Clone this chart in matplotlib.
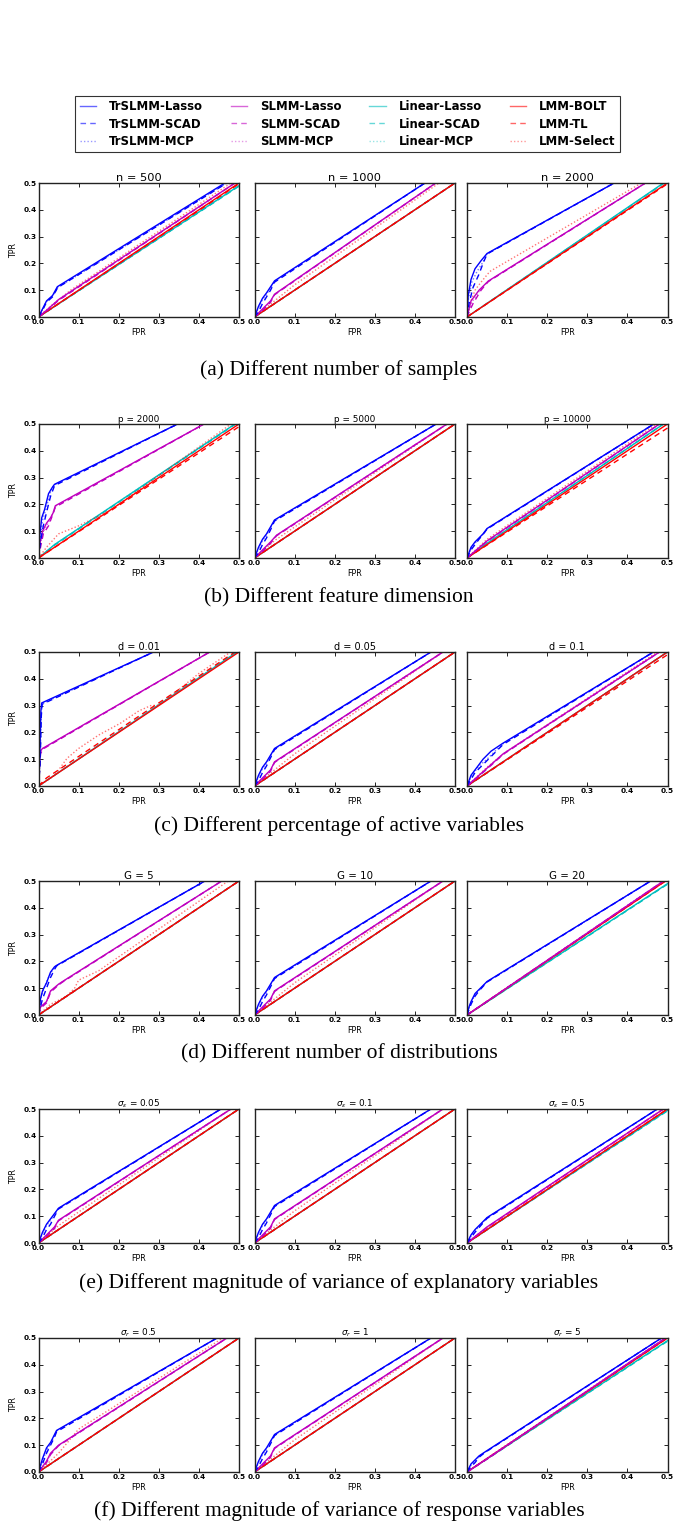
import matplotlib
matplotlib.use("Agg")
import matplotlib.pyplot as plt
from matplotlib.lines import Line2D

# ---------------- data ----------------
methods = ["TrSLMM-Lasso", "TrSLMM-SCAD", "TrSLMM-MCP",
           "SLMM-Lasso", "SLMM-SCAD", "SLMM-MCP",
           "Linear-Lasso", "Linear-SCAD", "Linear-MCP",
           "LMM-BOLT", "LMM-TL", "LMM-Select"]

row_titles = [["n = 500", "n = 1000", "n = 2000"],
              ["p = 2000", "p = 5000", "p = 10000"],
              ["d = 0.01", "d = 0.05", "d = 0.1"],
              ["G = 5", "G = 10", "G = 20"],
              [r"$\sigma_\epsilon$ = 0.05", r"$\sigma_\epsilon$ = 0.1", r"$\sigma_\epsilon$ = 0.5"],
              [r"$\sigma_r$ = 0.5", r"$\sigma_r$ = 1", r"$\sigma_r$ = 5"]]

captions = ["(a) Different number of samples",
            "(b) Different feature dimension",
            "(c) Different percentage of active variables",
            "(d) Different number of distributions",
            "(e) Different magnitude of variance of explanatory variables",
            "(f) Different magnitude of variance of response variables"]

xticks = [0.0, 0.1, 0.2, 0.3, 0.4, 0.5]
yticks = [0.0, 0.1, 0.2, 0.3, 0.4, 0.5]

DIAG = ([0, 0.5], [0, 0.5])

# each curve: (FPR knots, TPR knots)
roc_n500 = {
    "TrSLMM-Lasso": ([0, 0.01, 0.02, 0.035, 0.047, 0.465], [0, 0.03, 0.06, 0.08, 0.113, 0.5]),
    "TrSLMM-SCAD": ([0, 0.01, 0.02, 0.035, 0.048, 0.47], [0, 0.025, 0.055, 0.075, 0.11, 0.5]),
    "TrSLMM-MCP": ([0, 0.01, 0.02, 0.035, 0.048, 0.47], [0, 0.028, 0.058, 0.078, 0.11, 0.5]),
    "SLMM-Lasso": ([0, 0.02, 0.05, 0.49], [0, 0.025, 0.065, 0.5]),
    "SLMM-SCAD": ([0, 0.02, 0.05, 0.49], [0, 0.022, 0.062, 0.5]),
    "SLMM-MCP": ([0, 0.02, 0.05, 0.49], [0, 0.024, 0.064, 0.5]),
    "Linear-Lasso": ([0, 0.5], [0, 0.49]),
    "Linear-SCAD": ([0, 0.5], [0, 0.488]),
    "Linear-MCP": ([0, 0.5], [0, 0.49]),
    "LMM-BOLT": DIAG,
    "LMM-TL": ([0, 0.5], [0, 0.497]),
    "LMM-Select": ([0, 0.03, 0.08, 0.48], [0, 0.04, 0.1, 0.5]),
}
roc_n1000 = {
    "TrSLMM-Lasso": ([0, 0.01, 0.02, 0.03, 0.05, 0.425], [0, 0.04, 0.07, 0.09, 0.135, 0.5]),
    "TrSLMM-SCAD": ([0, 0.01, 0.02, 0.03, 0.04, 0.05, 0.425], [0, 0.02, 0.05, 0.075, 0.1, 0.13, 0.5]),
    "TrSLMM-MCP": ([0, 0.01, 0.02, 0.03, 0.05, 0.425], [0, 0.035, 0.065, 0.085, 0.133, 0.5]),
    "SLMM-Lasso": ([0, 0.02, 0.04, 0.05, 0.452], [0, 0.03, 0.06, 0.085, 0.5]),
    "SLMM-SCAD": ([0, 0.02, 0.04, 0.05, 0.452], [0, 0.025, 0.055, 0.083, 0.5]),
    "SLMM-MCP": ([0, 0.02, 0.04, 0.05, 0.452], [0, 0.028, 0.058, 0.084, 0.5]),
    "Linear-Lasso": DIAG,
    "Linear-SCAD": DIAG,
    "Linear-MCP": DIAG,
    "LMM-BOLT": DIAG,
    "LMM-TL": DIAG,
    "LMM-Select": ([0, 0.05, 0.1, 0.46], [0, 0.06, 0.12, 0.5]),
}
roc_n2000 = {
    "TrSLMM-Lasso": ([0, 0.003, 0.01, 0.02, 0.035, 0.05, 0.367], [0, 0.08, 0.14, 0.18, 0.21, 0.237, 0.5]),
    "TrSLMM-SCAD": ([0, 0.005, 0.015, 0.03, 0.04, 0.05, 0.367], [0, 0.05, 0.11, 0.16, 0.2, 0.235, 0.5]),
    "TrSLMM-MCP": ([0, 0.004, 0.012, 0.025, 0.04, 0.05, 0.367], [0, 0.07, 0.13, 0.17, 0.205, 0.236, 0.5]),
    "SLMM-Lasso": ([0, 0.005, 0.01, 0.02, 0.03, 0.053, 0.445], [0, 0.03, 0.06, 0.08, 0.1, 0.134, 0.5]),
    "SLMM-SCAD": ([0, 0.007, 0.015, 0.025, 0.035, 0.053, 0.445], [0, 0.025, 0.05, 0.075, 0.1, 0.132, 0.5]),
    "SLMM-MCP": ([0, 0.005, 0.012, 0.022, 0.032, 0.053, 0.445], [0, 0.028, 0.055, 0.078, 0.1, 0.133, 0.5]),
    "Linear-Lasso": ([0, 0.49], [0, 0.5]),
    "Linear-SCAD": ([0, 0.492], [0, 0.5]),
    "Linear-MCP": ([0, 0.492], [0, 0.5]),
    "LMM-BOLT": DIAG,
    "LMM-TL": ([0, 0.5], [0, 0.497]),
    "LMM-Select": ([0, 0.01, 0.02, 0.035, 0.057, 0.435], [0, 0.06, 0.1, 0.13, 0.17, 0.5]),
}
roc_p2000 = {
    "TrSLMM-Lasso": ([0, 0.003, 0.008, 0.015, 0.025, 0.035, 0.04, 0.347], [0, 0.08, 0.15, 0.18, 0.24, 0.265, 0.275, 0.5]),
    "TrSLMM-SCAD": ([0, 0.005, 0.012, 0.02, 0.03, 0.04, 0.347], [0, 0.06, 0.12, 0.17, 0.23, 0.27, 0.5]),
    "TrSLMM-MCP": ([0, 0.004, 0.01, 0.02, 0.03, 0.04, 0.347], [0, 0.07, 0.14, 0.19, 0.25, 0.273, 0.5]),
    "SLMM-Lasso": ([0, 0.003, 0.01, 0.02, 0.03, 0.037, 0.042, 0.413], [0, 0.05, 0.1, 0.13, 0.15, 0.17, 0.195, 0.5]),
    "SLMM-SCAD": ([0, 0.005, 0.012, 0.025, 0.035, 0.042, 0.413], [0, 0.04, 0.09, 0.12, 0.16, 0.19, 0.5]),
    "SLMM-MCP": ([0, 0.004, 0.011, 0.022, 0.033, 0.042, 0.413], [0, 0.045, 0.095, 0.125, 0.155, 0.193, 0.5]),
    "Linear-Lasso": ([0, 0.04, 0.49], [0, 0.05, 0.5]),
    "Linear-SCAD": ([0, 0.04, 0.492], [0, 0.048, 0.5]),
    "Linear-MCP": ([0, 0.04, 0.49], [0, 0.05, 0.5]),
    "LMM-BOLT": DIAG,
    "LMM-TL": ([0, 0.5], [0, 0.49]),
    "LMM-Select": ([0, 0.02, 0.05, 0.1, 0.178, 0.48], [0, 0.04, 0.09, 0.12, 0.177, 0.5]),
}
roc_p5000 = {
    "TrSLMM-Lasso": ([0, 0.01, 0.02, 0.03, 0.05, 0.453], [0, 0.04, 0.07, 0.09, 0.142, 0.5]),
    "TrSLMM-SCAD": ([0, 0.01, 0.02, 0.03, 0.04, 0.05, 0.453], [0, 0.02, 0.05, 0.075, 0.105, 0.138, 0.5]),
    "TrSLMM-MCP": ([0, 0.01, 0.02, 0.03, 0.05, 0.453], [0, 0.035, 0.065, 0.085, 0.14, 0.5]),
    "SLMM-Lasso": ([0, 0.02, 0.04, 0.055, 0.48], [0, 0.03, 0.06, 0.085, 0.5]),
    "SLMM-SCAD": ([0, 0.02, 0.04, 0.055, 0.48], [0, 0.025, 0.055, 0.083, 0.5]),
    "SLMM-MCP": ([0, 0.02, 0.04, 0.055, 0.48], [0, 0.028, 0.058, 0.084, 0.5]),
    "Linear-Lasso": DIAG,
    "Linear-SCAD": DIAG,
    "Linear-MCP": DIAG,
    "LMM-BOLT": DIAG,
    "LMM-TL": DIAG,
    "LMM-Select": ([0, 0.05, 0.48], [0, 0.065, 0.5]),
}
roc_p10000 = {
    "TrSLMM-Lasso": ([0, 0.005, 0.01, 0.02, 0.03, 0.04, 0.05, 0.466], [0, 0.02, 0.04, 0.06, 0.075, 0.09, 0.11, 0.5]),
    "TrSLMM-SCAD": ([0, 0.005, 0.01, 0.02, 0.03, 0.04, 0.05, 0.466], [0, 0.015, 0.03, 0.05, 0.07, 0.088, 0.108, 0.5]),
    "TrSLMM-MCP": ([0, 0.005, 0.01, 0.02, 0.03, 0.04, 0.05, 0.466], [0, 0.018, 0.035, 0.055, 0.072, 0.089, 0.109, 0.5]),
    "SLMM-Lasso": ([0, 0.05, 0.48], [0, 0.064, 0.5]),
    "SLMM-SCAD": ([0, 0.05, 0.48], [0, 0.062, 0.5]),
    "SLMM-MCP": ([0, 0.05, 0.48], [0, 0.063, 0.5]),
    "Linear-Lasso": ([0, 0.05, 0.49], [0, 0.055, 0.5]),
    "Linear-SCAD": ([0, 0.05, 0.49], [0, 0.054, 0.5]),
    "Linear-MCP": ([0, 0.05, 0.49], [0, 0.055, 0.5]),
    "LMM-BOLT": DIAG,
    "LMM-TL": ([0, 0.5], [0, 0.485]),
    "LMM-Select": ([0, 0.05, 0.472], [0, 0.07, 0.5]),
}
roc_d001 = {
    "TrSLMM-Lasso": ([0, 0.003, 0.006, 0.008, 0.287], [0, 0.1, 0.28, 0.31, 0.5]),
    "TrSLMM-SCAD": ([0, 0.004, 0.007, 0.009, 0.287], [0, 0.08, 0.26, 0.305, 0.5]),
    "TrSLMM-MCP": ([0, 0.004, 0.007, 0.009, 0.287], [0, 0.09, 0.27, 0.307, 0.5]),
    "SLMM-Lasso": ([0, 0.002, 0.004, 0.01, 0.427], [0, 0.08, 0.13, 0.14, 0.5]),
    "SLMM-SCAD": ([0, 0.003, 0.005, 0.011, 0.427], [0, 0.07, 0.12, 0.138, 0.5]),
    "SLMM-MCP": ([0, 0.002, 0.005, 0.01, 0.427], [0, 0.075, 0.125, 0.139, 0.5]),
    "Linear-Lasso": ([0, 0.495], [0, 0.5]),
    "Linear-SCAD": ([0, 0.495], [0, 0.5]),
    "Linear-MCP": ([0, 0.495], [0, 0.5]),
    "LMM-BOLT": DIAG,
    "LMM-TL": ([0, 0.02, 0.49], [0, 0.03, 0.5]),
    "LMM-Select": ([0, 0.02, 0.041, 0.071, 0.1, 0.15, 0.204, 0.25, 0.28, 0.3, 0.35, 0.4, 0.479],
                   [0, 0.02, 0.041, 0.103, 0.14, 0.19, 0.234, 0.28, 0.3, 0.302, 0.36, 0.42, 0.5]),
}
roc_d005 = {
    "TrSLMM-Lasso": ([0, 0.01, 0.02, 0.03, 0.05, 0.44], [0, 0.04, 0.07, 0.09, 0.14, 0.5]),
    "TrSLMM-SCAD": ([0, 0.01, 0.02, 0.03, 0.04, 0.05, 0.44], [0, 0.02, 0.05, 0.075, 0.105, 0.136, 0.5]),
    "TrSLMM-MCP": ([0, 0.01, 0.02, 0.03, 0.05, 0.44], [0, 0.035, 0.065, 0.085, 0.138, 0.5]),
    "SLMM-Lasso": ([0, 0.02, 0.04, 0.05, 0.47], [0, 0.03, 0.06, 0.09, 0.5]),
    "SLMM-SCAD": ([0, 0.02, 0.04, 0.05, 0.47], [0, 0.025, 0.055, 0.088, 0.5]),
    "SLMM-MCP": ([0, 0.02, 0.04, 0.05, 0.47], [0, 0.028, 0.058, 0.089, 0.5]),
    "Linear-Lasso": DIAG,
    "Linear-SCAD": DIAG,
    "Linear-MCP": DIAG,
    "LMM-BOLT": DIAG,
    "LMM-TL": DIAG,
    "LMM-Select": ([0, 0.05, 0.1, 0.47], [0, 0.06, 0.12, 0.5]),
}
roc_d01 = {
    "TrSLMM-Lasso": ([0, 0.01, 0.02, 0.04, 0.06, 0.09, 0.465], [0, 0.04, 0.06, 0.1, 0.13, 0.16, 0.5]),
    "TrSLMM-SCAD": ([0, 0.02, 0.04, 0.06, 0.09, 0.465], [0, 0.05, 0.08, 0.11, 0.155, 0.5]),
    "TrSLMM-MCP": ([0, 0.01, 0.03, 0.05, 0.07, 0.09, 0.465], [0, 0.035, 0.075, 0.1, 0.13, 0.158, 0.5]),
    "SLMM-Lasso": ([0, 0.03, 0.06, 0.09, 0.48], [0, 0.04, 0.08, 0.12, 0.5]),
    "SLMM-SCAD": ([0, 0.03, 0.06, 0.09, 0.48], [0, 0.037, 0.077, 0.118, 0.5]),
    "SLMM-MCP": ([0, 0.03, 0.06, 0.09, 0.48], [0, 0.039, 0.079, 0.119, 0.5]),
    "Linear-Lasso": DIAG,
    "Linear-SCAD": DIAG,
    "Linear-MCP": DIAG,
    "LMM-BOLT": DIAG,
    "LMM-TL": ([0, 0.5], [0, 0.49]),
    "LMM-Select": ([0, 0.05, 0.1, 0.475], [0, 0.07, 0.13, 0.5]),
}
roc_G5 = {
    "TrSLMM-Lasso": ([0, 0.005, 0.01, 0.02, 0.03, 0.04, 0.045, 0.415], [0, 0.06, 0.09, 0.12, 0.16, 0.18, 0.185, 0.5]),
    "TrSLMM-SCAD": ([0, 0.01, 0.02, 0.03, 0.04, 0.045, 0.415], [0, 0.06, 0.1, 0.14, 0.17, 0.183, 0.5]),
    "TrSLMM-MCP": ([0, 0.007, 0.015, 0.025, 0.035, 0.045, 0.415], [0, 0.07, 0.105, 0.14, 0.168, 0.184, 0.5]),
    "SLMM-Lasso": ([0, 0.005, 0.02, 0.03, 0.05, 0.06, 0.457], [0, 0.03, 0.05, 0.09, 0.115, 0.125, 0.5]),
    "SLMM-SCAD": ([0, 0.005, 0.02, 0.03, 0.05, 0.06, 0.457], [0, 0.025, 0.045, 0.085, 0.112, 0.123, 0.5]),
    "SLMM-MCP": ([0, 0.005, 0.02, 0.03, 0.05, 0.06, 0.457], [0, 0.028, 0.048, 0.088, 0.113, 0.124, 0.5]),
    "Linear-Lasso": DIAG,
    "Linear-SCAD": DIAG,
    "Linear-MCP": DIAG,
    "LMM-BOLT": DIAG,
    "LMM-TL": DIAG,
    "LMM-Select": ([0, 0.03, 0.07, 0.09, 0.1, 0.15, 0.473], [0, 0.04, 0.07, 0.1, 0.13, 0.165, 0.5]),
}
roc_G10 = {
    "TrSLMM-Lasso": ([0, 0.01, 0.02, 0.03, 0.05, 0.44], [0, 0.04, 0.07, 0.09, 0.14, 0.5]),
    "TrSLMM-SCAD": ([0, 0.01, 0.02, 0.03, 0.04, 0.05, 0.44], [0, 0.02, 0.05, 0.075, 0.105, 0.136, 0.5]),
    "TrSLMM-MCP": ([0, 0.01, 0.02, 0.03, 0.05, 0.44], [0, 0.035, 0.065, 0.085, 0.138, 0.5]),
    "SLMM-Lasso": ([0, 0.02, 0.04, 0.05, 0.47], [0, 0.03, 0.06, 0.09, 0.5]),
    "SLMM-SCAD": ([0, 0.02, 0.04, 0.05, 0.47], [0, 0.025, 0.055, 0.088, 0.5]),
    "SLMM-MCP": ([0, 0.02, 0.04, 0.05, 0.47], [0, 0.028, 0.058, 0.089, 0.5]),
    "Linear-Lasso": DIAG,
    "Linear-SCAD": DIAG,
    "Linear-MCP": DIAG,
    "LMM-BOLT": DIAG,
    "LMM-TL": DIAG,
    "LMM-Select": ([0, 0.05, 0.1, 0.47], [0, 0.06, 0.12, 0.5]),
}
roc_G20 = {
    "TrSLMM-Lasso": ([0, 0.005, 0.01, 0.02, 0.03, 0.05, 0.458], [0, 0.03, 0.05, 0.08, 0.095, 0.125, 0.5]),
    "TrSLMM-SCAD": ([0, 0.005, 0.01, 0.02, 0.03, 0.05, 0.458], [0, 0.02, 0.04, 0.07, 0.09, 0.123, 0.5]),
    "TrSLMM-MCP": ([0, 0.005, 0.01, 0.02, 0.03, 0.05, 0.458], [0, 0.025, 0.045, 0.075, 0.092, 0.124, 0.5]),
    "SLMM-Lasso": ([0, 0.49], [0, 0.5]),
    "SLMM-SCAD": ([0, 0.49], [0, 0.5]),
    "SLMM-MCP": ([0, 0.49], [0, 0.5]),
    "Linear-Lasso": ([0, 0.5], [0, 0.49]),
    "Linear-SCAD": ([0, 0.5], [0, 0.488]),
    "Linear-MCP": ([0, 0.5], [0, 0.49]),
    "LMM-BOLT": ([0, 0.495], [0, 0.5]),
    "LMM-TL": ([0, 0.495], [0, 0.5]),
    "LMM-Select": ([0, 0.49], [0, 0.5]),
}
roc_se005 = {
    "TrSLMM-Lasso": ([0, 0.01, 0.02, 0.03, 0.05, 0.455], [0, 0.04, 0.07, 0.09, 0.13, 0.5]),
    "TrSLMM-SCAD": ([0, 0.01, 0.02, 0.03, 0.04, 0.05, 0.455], [0, 0.02, 0.05, 0.07, 0.1, 0.127, 0.5]),
    "TrSLMM-MCP": ([0, 0.01, 0.02, 0.03, 0.05, 0.455], [0, 0.035, 0.065, 0.085, 0.129, 0.5]),
    "SLMM-Lasso": ([0, 0.02, 0.04, 0.05, 0.48], [0, 0.03, 0.06, 0.085, 0.5]),
    "SLMM-SCAD": ([0, 0.02, 0.04, 0.05, 0.48], [0, 0.025, 0.055, 0.083, 0.5]),
    "SLMM-MCP": ([0, 0.02, 0.04, 0.05, 0.48], [0, 0.028, 0.058, 0.084, 0.5]),
    "Linear-Lasso": DIAG,
    "Linear-SCAD": DIAG,
    "Linear-MCP": DIAG,
    "LMM-BOLT": DIAG,
    "LMM-TL": DIAG,
    "LMM-Select": ([0, 0.05, 0.48], [0, 0.065, 0.5]),
}
roc_se01 = {
    "TrSLMM-Lasso": ([0, 0.01, 0.02, 0.03, 0.05, 0.44], [0, 0.04, 0.07, 0.09, 0.14, 0.5]),
    "TrSLMM-SCAD": ([0, 0.01, 0.02, 0.03, 0.04, 0.05, 0.44], [0, 0.02, 0.05, 0.075, 0.105, 0.136, 0.5]),
    "TrSLMM-MCP": ([0, 0.01, 0.02, 0.03, 0.05, 0.44], [0, 0.035, 0.065, 0.085, 0.138, 0.5]),
    "SLMM-Lasso": ([0, 0.02, 0.04, 0.05, 0.47], [0, 0.03, 0.06, 0.09, 0.5]),
    "SLMM-SCAD": ([0, 0.02, 0.04, 0.05, 0.47], [0, 0.025, 0.055, 0.088, 0.5]),
    "SLMM-MCP": ([0, 0.02, 0.04, 0.05, 0.47], [0, 0.028, 0.058, 0.089, 0.5]),
    "Linear-Lasso": DIAG,
    "Linear-SCAD": DIAG,
    "Linear-MCP": DIAG,
    "LMM-BOLT": DIAG,
    "LMM-TL": DIAG,
    "LMM-Select": ([0, 0.05, 0.1, 0.47], [0, 0.06, 0.12, 0.5]),
}
roc_se05 = {
    "TrSLMM-Lasso": ([0, 0.01, 0.02, 0.05, 0.475], [0, 0.03, 0.05, 0.095, 0.5]),
    "TrSLMM-SCAD": ([0, 0.01, 0.02, 0.05, 0.475], [0, 0.02, 0.04, 0.092, 0.5]),
    "TrSLMM-MCP": ([0, 0.01, 0.02, 0.05, 0.475], [0, 0.025, 0.045, 0.094, 0.5]),
    "SLMM-Lasso": ([0, 0.05, 0.49], [0, 0.06, 0.5]),
    "SLMM-SCAD": ([0, 0.05, 0.49], [0, 0.058, 0.5]),
    "SLMM-MCP": ([0, 0.05, 0.49], [0, 0.059, 0.5]),
    "Linear-Lasso": ([0, 0.5], [0, 0.495]),
    "Linear-SCAD": ([0, 0.5], [0, 0.493]),
    "Linear-MCP": ([0, 0.5], [0, 0.495]),
    "LMM-BOLT": DIAG,
    "LMM-TL": DIAG,
    "LMM-Select": ([0, 0.05, 0.49], [0, 0.058, 0.5]),
}
roc_sr05 = {
    "TrSLMM-Lasso": ([0, 0.01, 0.02, 0.03, 0.045, 0.445], [0, 0.05, 0.09, 0.11, 0.155, 0.5]),
    "TrSLMM-SCAD": ([0, 0.01, 0.02, 0.03, 0.04, 0.045, 0.445], [0, 0.03, 0.07, 0.1, 0.13, 0.15, 0.5]),
    "TrSLMM-MCP": ([0, 0.01, 0.02, 0.03, 0.045, 0.445], [0, 0.04, 0.08, 0.105, 0.153, 0.5]),
    "SLMM-Lasso": ([0, 0.02, 0.03, 0.05, 0.47], [0, 0.04, 0.07, 0.1, 0.5]),
    "SLMM-SCAD": ([0, 0.02, 0.03, 0.05, 0.47], [0, 0.035, 0.065, 0.098, 0.5]),
    "SLMM-MCP": ([0, 0.02, 0.03, 0.05, 0.47], [0, 0.038, 0.068, 0.099, 0.5]),
    "Linear-Lasso": DIAG,
    "Linear-SCAD": DIAG,
    "Linear-MCP": DIAG,
    "LMM-BOLT": DIAG,
    "LMM-TL": DIAG,
    "LMM-Select": ([0, 0.05, 0.1, 0.46], [0, 0.07, 0.16, 0.5]),
}
roc_sr1 = {
    "TrSLMM-Lasso": ([0, 0.01, 0.02, 0.03, 0.05, 0.44], [0, 0.04, 0.07, 0.09, 0.14, 0.5]),
    "TrSLMM-SCAD": ([0, 0.01, 0.02, 0.03, 0.04, 0.05, 0.44], [0, 0.02, 0.05, 0.075, 0.105, 0.136, 0.5]),
    "TrSLMM-MCP": ([0, 0.01, 0.02, 0.03, 0.05, 0.44], [0, 0.035, 0.065, 0.085, 0.138, 0.5]),
    "SLMM-Lasso": ([0, 0.02, 0.04, 0.05, 0.47], [0, 0.03, 0.06, 0.09, 0.5]),
    "SLMM-SCAD": ([0, 0.02, 0.04, 0.05, 0.47], [0, 0.025, 0.055, 0.088, 0.5]),
    "SLMM-MCP": ([0, 0.02, 0.04, 0.05, 0.47], [0, 0.028, 0.058, 0.089, 0.5]),
    "Linear-Lasso": DIAG,
    "Linear-SCAD": DIAG,
    "Linear-MCP": DIAG,
    "LMM-BOLT": DIAG,
    "LMM-TL": DIAG,
    "LMM-Select": ([0, 0.05, 0.1, 0.47], [0, 0.06, 0.12, 0.5]),
}
roc_sr5 = {
    "TrSLMM-Lasso": ([0, 0.01, 0.02, 0.03, 0.045, 0.485], [0, 0.03, 0.045, 0.06, 0.075, 0.5]),
    "TrSLMM-SCAD": ([0, 0.01, 0.02, 0.03, 0.045, 0.485], [0, 0.02, 0.035, 0.055, 0.073, 0.5]),
    "TrSLMM-MCP": ([0, 0.01, 0.02, 0.03, 0.045, 0.485], [0, 0.025, 0.04, 0.058, 0.074, 0.5]),
    "SLMM-Lasso": ([0, 0.05, 0.495], [0, 0.05, 0.5]),
    "SLMM-SCAD": ([0, 0.05, 0.495], [0, 0.048, 0.5]),
    "SLMM-MCP": ([0, 0.05, 0.495], [0, 0.049, 0.5]),
    "Linear-Lasso": ([0, 0.5], [0, 0.49]),
    "Linear-SCAD": ([0, 0.5], [0, 0.488]),
    "Linear-MCP": ([0, 0.5], [0, 0.49]),
    "LMM-BOLT": DIAG,
    "LMM-TL": DIAG,
    "LMM-Select": ([0, 0.05, 0.495], [0, 0.052, 0.5]),
}

panels = [[roc_n500, roc_n1000, roc_n2000],
          [roc_p2000, roc_p5000, roc_p10000],
          [roc_d001, roc_d005, roc_d01],
          [roc_G5, roc_G10, roc_G20],
          [roc_se005, roc_se01, roc_se05],
          [roc_sr05, roc_sr1, roc_sr5]]

# ---------------- styles ----------------
colors = {"TrSLMM": "#0000ff", "SLMM": "#bf00bf", "Linear": "#00bfbf", "LMM": "#ff0000"}
styles = {"Lasso": "-", "SCAD": (0, (4, 3)), "MCP": (0, (1, 1.5)),
          "BOLT": "-", "TL": (0, (4, 3)), "Select": (0, (1, 1.5))}
dotted_alpha = 0.55

W, H = 676, 1524
fig = plt.figure(figsize=(W / 100, H / 100), dpi=100)

col_left = [38.5, 254.5, 467.0]
ax_w = 200.5
row_top = [183, 424, 652, 881, 1109, 1338]
ax_h = 134
cap_y = [370, 598, 826, 1054, 1283, 1511]
title_sizes = [8.2, 6.4, 7.0, 7.4, 6.4, 6.4]

def style_of(m):
    fam, pen = m.split("-")
    ls = styles[pen]
    alpha = dotted_alpha if pen in ("MCP", "Select") else 1.0
    return colors[fam], ls, alpha

order = ["Linear-Lasso", "Linear-SCAD", "Linear-MCP",
         "LMM-Select", "LMM-TL", "LMM-BOLT",
         "SLMM-MCP", "SLMM-SCAD", "SLMM-Lasso",
         "TrSLMM-MCP", "TrSLMM-SCAD", "TrSLMM-Lasso"]

for r in range(6):
    for c in range(3):
        ax = fig.add_axes([col_left[c] / W, 1 - (row_top[r] + ax_h) / H, ax_w / W, ax_h / H])
        data = panels[r][c]
        for m in order:
            xs, ys = data[m]
            col, ls, al = style_of(m)
            ax.plot(xs, ys, color=col, linestyle=ls, lw=1.0, alpha=al)
        ax.set_xlim(0, 0.5)
        ax.set_ylim(0, 0.5)
        ax.set_xticks(xticks)
        ax.set_yticks(yticks)
        ax.set_xticklabels(["%.1f" % t for t in xticks], fontsize=5.3, fontweight="bold")
        if c == 0:
            ax.set_yticklabels(["%.1f" % t for t in yticks], fontsize=5.3, fontweight="bold")
            ax.set_ylabel("TPR", fontsize=5.8, labelpad=4)
        else:
            ax.set_yticklabels([])
        ax.set_xlabel("FPR", fontsize=5.8, labelpad=2)
        ax.tick_params(direction="in", top=True, right=True, length=3, width=0.6, pad=1.5)
        for s in ax.spines.values():
            s.set_linewidth(1.0)
            s.set_color("#222222")
        ax.set_title(row_titles[r][c], fontsize=title_sizes[r], pad=1.5)
    fig.text(339 / W, 1 - cap_y[r] / H, captions[r], ha="center", va="center",
             fontsize=15.5, family="Liberation Serif")

# legend
handles = []
for m in methods:
    col, ls, al = style_of(m)
    handles.append(Line2D([], [], color=col, linestyle=ls, lw=1.0, alpha=0.6 if al == 1.0 else 0.4))
leg = fig.legend(handles, methods, ncol=4, loc="center",
                 bbox_to_anchor=(347.5 / W, 1 - 124 / H),
                 prop={"size": 8.4, "weight": "bold"},
                 frameon=True, fancybox=False, edgecolor="black",
                 handlelength=1.4, handletextpad=1.1, columnspacing=2.4,
                 labelspacing=0.35, borderpad=0.35, borderaxespad=0)
leg.get_frame().set_linewidth(0.8)

fig.savefig("out.png", dpi=100)
